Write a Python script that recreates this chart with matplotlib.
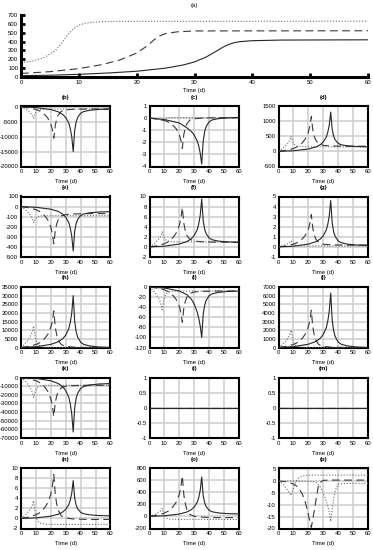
import matplotlib
matplotlib.use("Agg")
import matplotlib.pyplot as plt
from matplotlib.ticker import FuncFormatter

plt.rcParams['font.family'] = ['Liberation Sans', 'DejaVu Sans']
plt.rcParams['axes.unicode_minus'] = False

# ---------------- data ----------------
# panel (a)
TA_DOT = [0, 2, 4, 6, 7, 8, 9, 10, 11, 12, 14, 16, 60]
A_DOT = [160, 180, 220, 300, 380, 470, 540, 585, 605, 615, 625, 628, 630]
TA_DASH = [0, 5, 10, 14, 17, 20, 22, 23, 24, 25, 27, 30, 60]
A_DASH = [40, 60, 95, 140, 190, 270, 360, 420, 465, 490, 510, 520, 522]
TA_SOLID = [0, 5, 10, 15, 20, 25, 28, 30, 32, 34, 35, 36, 37, 38, 40, 45, 60]
A_SOLID = [15, 20, 30, 45, 65, 100, 135, 170, 225, 300, 340, 370, 390, 400, 410, 417, 420]

# sample times for panels (b)-(p)
T_DOT = [0, 2, 4, 6, 7, 7.8, 8.5, 9.5, 10.5, 11.5, 13.5, 16, 21, 60]
T_DASH = [0, 5, 10, 13, 16, 18, 20, 21, 22, 23, 24, 25, 27, 30, 35, 45, 60]
T_SOLID = [0, 10, 20, 25, 28, 30, 32, 33, 34, 35, 36, 37, 38, 40, 42, 46, 52, 60]

B_DOT = [0, -460, -1060, -1900, -2390, -3040, -3800, -2250, -1480, -1070, -820, -730, -700, -700]
B_DASH = [0, -320, -840, -1470, -2630, -3780, -5780, -7560, -10500, -6090, -3930, -2660, -1480, -990, -800, -700, -700]
B_SOLID = [0, -225, -900, -1650, -2550, -3600, -5400, -7200, -9900, -15000, -7850, -4990, -3560, -2130, -1560, -1130, -840, -700]

C_DOT = [0, -0.02, -0.06, -0.10, -0.13, -0.16, -0.20, -0.09, -0.03, 0.0, 0.02, 0.03, 0.03, 0.03]
C_DASH = [0, -0.08, -0.2, -0.35, -0.63, -0.9, -1.38, -1.8, -2.5, -1.36, -0.8, -0.48, -0.17, -0.05, 0.0, 0.03, 0.03]
C_SOLID = [0, -0.12, -0.4, -0.8, -1.1, -1.4, -1.9, -2.3, -2.9, -3.8, -1.9, -1.1, -0.7, -0.3, -0.15, -0.05, 0.02, 0.05]

D_DOT = [0, 60, 140, 250, 315, 400, 500, 325, 237, 192, 164, 153, 150, 150]
D_DASH = [0, 35, 92, 161, 288, 414, 633, 828, 1150, 709, 493, 366, 248, 199, 180, 170, 170]
D_SOLID = [0, 20, 78, 143, 221, 312, 468, 624, 858, 1300, 725, 495, 380, 265, 219, 185, 162, 150]

E_DOT = [0, -19, -45, -80, -101, -128, -160, -125, -108, -98, -93, -91, -90, -90]
E_DASH = [0, -11, -30, -52, -93, -133, -204, -266, -370, -235, -169, -130, -94, -79, -73, -70, -70]
E_SOLID = [0, -7, -26, -48, -75, -106, -158, -211, -290, -440, -245, -167, -128, -89, -73, -62, -54, -50]

F_DOT = [0, 0.36, 0.84, 1.5, 1.89, 2.4, 3.0, 2.0, 1.5, 1.24, 1.08, 1.02, 1.0, 1.0]
F_DASH = [0, 0.23, 0.62, 1.09, 1.95, 2.81, 4.29, 5.62, 7.8, 4.72, 3.21, 2.32, 1.5, 1.16, 1.02, 0.95, 0.95]
F_SOLID = [0, 0.14, 0.57, 1.05, 1.62, 2.28, 3.42, 4.56, 6.27, 9.5, 5.2, 3.48, 2.62, 1.76, 1.42, 1.16, 0.99, 0.9]

G_DOT = [0, 0.07, 0.17, 0.3, 0.38, 0.48, 0.6, 0.35, 0.23, 0.16, 0.12, 0.1, 0.1, 0.1]
G_DASH = [0, 0.1, 0.26, 0.45, 0.8, 1.15, 1.76, 2.3, 3.2, 1.84, 1.18, 0.78, 0.42, 0.27, 0.21, 0.18, 0.18]
G_SOLID = [0, 0.07, 0.28, 0.51, 0.78, 1.1, 1.66, 2.21, 3.04, 4.6, 2.38, 1.49, 1.04, 0.6, 0.42, 0.28, 0.19, 0.15]

H_DOT = [0, 1490, 3470, 6200, 7810, 9920, 12400, 6200, 3100, 1490, 500, 120, 0, 0]
H_DASH = [0, 640, 1700, 2970, 5300, 7630, 11660, 15260, 21200, 11660, 7000, 4240, 1700, 640, 210, 0, 0]
H_SOLID = [0, 450, 1800, 3300, 5100, 7200, 10800, 14400, 19800, 30000, 15000, 9000, 6000, 3000, 1800, 900, 300, 0]

I_DOT = [0, -5.4, -12.6, -22.5, -28.4, -36, -45, -26.5, -17.3, -12.4, -9.5, -8.4, -8, -8]
I_DASH = [0, -2.1, -5.6, -9.8, -17.5, -25.2, -38.5, -50.4, -70, -42.1, -28.5, -20.4, -13, -9.9, -8.6, -8, -8]
I_SOLID = [0, -2, -8, -15, -24, -34, -50, -62, -77, -100, -54, -35.6, -26.4, -17.2, -13.5, -10.8, -8.9, -8]

J_DOT = [0, 240, 560, 1000, 1260, 1600, 2000, 1000, 500, 240, 80, 20, 0, 0]
J_DASH = [0, 130, 340, 600, 1075, 1550, 2365, 3100, 4300, 2365, 1420, 860, 344, 130, 43, 0, 0]
J_SOLID = [0, 95, 380, 690, 1070, 1510, 2270, 3020, 4160, 6300, 3150, 1890, 1260, 630, 380, 190, 63, 0]

K_DOT = [0, -2760, -6440, -11500, -14490, -18400, -23000, -16000, -12500, -10680, -9560, -9140, -9000, -9000]
K_DASH = [0, -1350, -3600, -6300, -11250, -16200, -24750, -32400, -45000, -28800, -20880, -16200, -11880, -10080, -9360, -9000, -9000]
K_SOLID = [0, -950, -3780, -6930, -10710, -15120, -22680, -30240, -41580, -63000, -35000, -23800, -18200, -12600, -10360, -8680, -7560, -7000]

ZERO_DOT = [0] * 14
ZERO_DASH = [0] * 17
ZERO_SOLID = [0] * 18

N_DOT = [0, 0.42, 0.98, 1.75, 2.2, 2.8, 3.5, 1.15, -0.03, -0.64, -1.01, -1.15, -1.2, -1.2]
N_DASH = [0, 0.26, 0.7, 1.22, 2.18, 3.13, 4.79, 6.26, 8.7, 4.7, 2.74, 1.58, 0.51, 0.07, -0.11, -0.2, -0.2]
N_SOLID = [0, 0.11, 0.45, 0.83, 1.28, 1.8, 2.7, 3.6, 4.95, 7.5, 4.0, 2.6, 1.9, 1.2, 0.92, 0.71, 0.57, 0.5]

O_DOT = [0, 16, 36, 65, 82, 104, 130, 40, -5, -28, -43, -48, -50, -50]
O_DASH = [0, 20, 54, 94, 168, 241, 369, 482, 670, 360, 208, 118, 35, 1, -13, -20, -20]
O_SOLID = [0, 10, 39, 72, 111, 156, 234, 312, 429, 650, 345, 223, 162, 101, 77, 58, 46, 40]

P_DOT = [0, -0.8, -2, -3.8, -4.8, -5.5, -6, -4, -2, -0.5, 1.2, 2.1, 2.5, 2.5]
P_DASH = [0, -0.3, -1.2, -2.5, -5.5, -9, -14, -17, -19.5, -16, -12.5, -8.5, -1, 0.3, 0.4, 0.4, 0.4]
P_SOLID = [0, 0, -0.1, -0.4, -2.5, -5, -8.5, -10.5, -13, -17, -12, -7.5, -4, -1.3, -1.1, -1, -1, -1]

LABELS = ['(b)', '(c)', '(d)', '(e)', '(f)', '(g)', '(h)', '(i)', '(j)',
          '(k)', '(l)', '(m)', '(n)', '(o)', '(p)']
SERIES = [
    (B_DOT, B_DASH, B_SOLID), (C_DOT, C_DASH, C_SOLID), (D_DOT, D_DASH, D_SOLID),
    (E_DOT, E_DASH, E_SOLID), (F_DOT, F_DASH, F_SOLID), (G_DOT, G_DASH, G_SOLID),
    (H_DOT, H_DASH, H_SOLID), (I_DOT, I_DASH, I_SOLID), (J_DOT, J_DASH, J_SOLID),
    (K_DOT, K_DASH, K_SOLID), (ZERO_DOT, ZERO_DASH, ZERO_SOLID), (ZERO_DOT, ZERO_DASH, ZERO_SOLID),
    (N_DOT, N_DASH, N_SOLID), (O_DOT, O_DASH, O_SOLID), (P_DOT, P_DASH, P_SOLID),
]
YTICKS = [
    [0, -5000, -10000, -15000, -20000], [1, 0, -1, -2, -3, -4], [1500, 1000, 500, 0, -500],
    [100, 0, -100, -200, -300, -400, -500], [10, 8, 6, 4, 2, 0, -2], [5, 4, 3, 2, 1, 0, -1],
    [35000, 30000, 25000, 20000, 15000, 10000, 5000, 0], [0, -20, -40, -60, -80, -100, -120],
    [7000, 6000, 5000, 4000, 3000, 2000, 1000, 0],
    [0, -10000, -20000, -30000, -40000, -50000, -60000, -70000], [1, 0.5, 0, -0.5, -1],
    [1, 0.5, 0, -0.5, -1], [10, 8, 6, 4, 2, 0, -2], [800, 600, 400, 200, 0, -200],
    [5, 0, -5, -10, -15, -20],
]
YLIMS = [(-20000, 300), (-4, 1), (-500, 1500), (-500, 100), (-2, 10), (-1, 5), (0, 35000),
         (-120, 0), (0, 7000), (-70000, 0), (-1, 1), (-1, 1), (-2, 10), (-200, 800), (-20, 5.5)]
XTICKS = [0, 10, 20, 30, 40, 50, 60]
AXIS_LABEL = 'Time (d)'

# ---------------- figure ----------------
W, H = 373, 550
fig = plt.figure(figsize=(W / 100, H / 100), dpi=100)
fig.patch.set_facecolor('white')

def rect(left, top, width, height):
    return [left / W, 1 - (top + height) / H, width / W, height / H]

def fmt(v, pos):
    if float(v).is_integer():
        return '%d' % int(v)
    return ('%g' % v)

SOLID_C = '#262626'
DASH_C = '#3a3a3a'
DOT_C = '#6a6a6a'
FS = 4.3

# panel (a)
axa = fig.add_axes(rect(21, 15, 347, 62))
axa.plot(TA_DOT, A_DOT, color=DOT_C, lw=0.8, linestyle=(0, (1, 1.6)))
axa.plot(TA_DASH, A_DASH, color=DASH_C, lw=0.8, dashes=(7, 4))
axa.plot(TA_SOLID, A_SOLID, color=SOLID_C, lw=0.8)
axa.set_xlim(0, 60)
axa.set_ylim(0, 700)
axa.set_xticks(XTICKS)
axa.set_yticks(range(0, 701, 100))
for s in ('top', 'right'):
    axa.spines[s].set_visible(False)
for s in ('left', 'bottom'):
    axa.spines[s].set_linewidth(2.2)
axa.tick_params(direction='in', length=3, width=2, labelsize=FS, pad=2)
axa.xaxis.set_major_formatter(FuncFormatter(fmt))
axa.set_xlabel(AXIS_LABEL, fontsize=FS, labelpad=2)
fig.text(194 / W, 1 - 5 / H, '(a)', fontsize=FS, ha='center', va='center')

col_left = [21, 149.5, 278.5]
row_top = [106, 196.5, 287, 377.5, 468]
AW, AH = 89.5, 60.5

for i, lab in enumerate(LABELS):
    r, c = divmod(i, 3)
    ax = fig.add_axes(rect(col_left[c], row_top[r], AW, AH))
    dot, dash, solid = SERIES[i]
    ax.plot(T_DOT, dot, color=DOT_C, lw=0.8, linestyle=(0, (1, 1.6)), zorder=3)
    ax.plot(T_DASH, dash, color=DASH_C, lw=0.8, dashes=(7, 4), zorder=3)
    if lab == '(p)':
        ax.plot(T_SOLID, solid, color=DOT_C, lw=0.8, linestyle=(0, (1, 1.6)), zorder=3)
    else:
        ax.plot(T_SOLID, solid, color=SOLID_C, lw=0.8, zorder=3)
    ax.set_xlim(0, 60)
    ax.set_ylim(*YLIMS[i])
    ax.set_xticks(XTICKS)
    ax.set_yticks(YTICKS[i])
    ax.grid(True, color='#cdcdcd', lw=1.1, zorder=0)
    ax.set_axisbelow(True)
    for s in ax.spines.values():
        s.set_linewidth(1.5)
        s.set_color('black')
    ax.tick_params(length=0, labelsize=FS, pad=2)
    ax.xaxis.set_major_formatter(FuncFormatter(fmt))
    ax.yaxis.set_major_formatter(FuncFormatter(fmt))
    ax.set_xlabel(AXIS_LABEL, fontsize=FS, labelpad=3.5)
    cx = col_left[c] + AW / 2
    fig.text(cx / W, 1 - (row_top[r] - 9) / H, lab, fontsize=FS, ha='center',
             va='center', fontweight='bold')

fig.savefig('out.png', dpi=100, facecolor='white')
